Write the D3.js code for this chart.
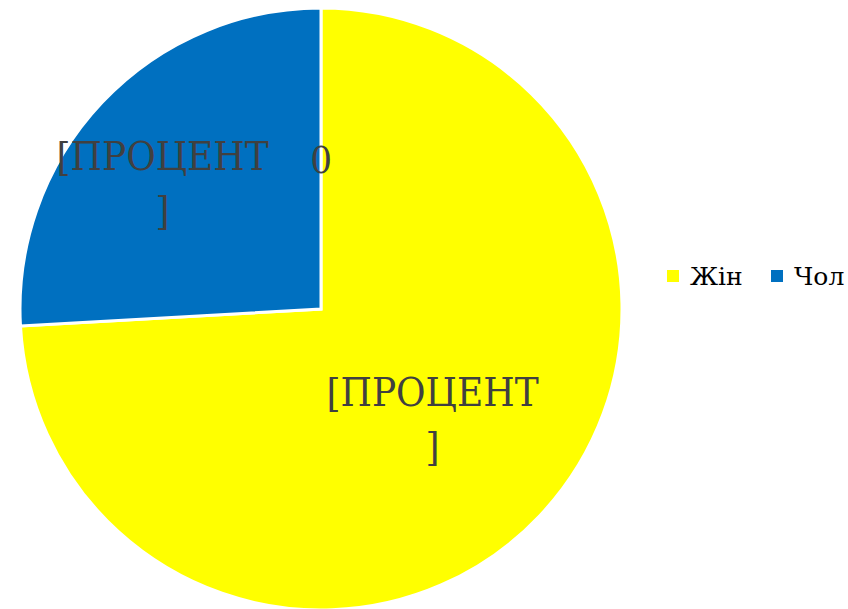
<!DOCTYPE html>
<html>
<head>
<meta charset="utf-8">
<script src="https://cdn.jsdelivr.net/npm/d3@7"></script>
<style>
  body { margin: 0; background: #fff; }
</style>
</head>
<body>
<div id="pieChart"></div>
<script>
var categories = ["Жін", "Чол"];
var values = [74.1, 25.9];
var colors = ["#FFFF00", "#0070C0"];
var sliceLabels = [["[ПРОЦЕНТ", "]"], ["[ПРОЦЕНТ", "]"]];
var zeroLabel = "0";

var w = 848;
var h = 609;
var cx = 321;
var cy = 309;
var radius = 301;
var serif = "'DejaVu Serif', serif";
var serifNarrow = "'DejaVu Serif Condensed', 'DejaVu Serif', serif";

var svg = d3.select("#pieChart")
    .append("svg")
    .attr("width", w)
    .attr("height", h)
    .style("font-family", serif);

var pie = d3.pie().sort(null).value(function(d) { return d; });
var arcs = pie(values);

var arc = d3.arc().innerRadius(0).outerRadius(radius);

var g = svg.append("g").attr("transform", "translate(" + cx + "," + cy + ")");

g.selectAll(".slice")
    .data(arcs)
    .enter()
    .append("path")
    .attr("class", "slice")
    .attr("d", arc)
    .attr("fill", function(d, i) { return colors[i]; })
    .attr("stroke", "#fff")
    .attr("stroke-width", 3);

// label radius differs per slice, like Excel's best-fit placement
var labelRadius = [0.51 * radius, 0.66 * radius];
var labelShift = [[0, 5], [-14, 10]];

var labels = g.selectAll(".slice-label")
    .data(arcs)
    .enter()
    .append("text")
    .attr("class", "slice-label")
    .attr("text-anchor", "middle")
    .attr("font-family", serifNarrow)
    .attr("fill", "#404040")
    .style("font-size", "40px")
    .attr("transform", function(d, i) {
        var c = d3.arc().innerRadius(labelRadius[i]).outerRadius(labelRadius[i]).centroid(d);
        return "translate(" + (c[0] + labelShift[i][0]) + "," + (c[1] + labelShift[i][1]) + ")";
    });

labels.selectAll("tspan")
    .data(function(d, i) { return sliceLabels[i]; })
    .enter()
    .append("tspan")
    .attr("x", 0)
    .attr("y", function(d, j) { return -13 + j * 54; })
    .text(function(d) { return d; });

// zero-valued label at the start of the pie
var zc = d3.arc().innerRadius(0.5 * radius).outerRadius(0.5 * radius)
    .centroid({ startAngle: 0, endAngle: 0 });
g.append("text")
    .attr("text-anchor", "middle")
    .attr("font-family", serifNarrow)
    .attr("fill", "#404040")
    .style("font-size", "38px")
    .attr("x", zc[0])
    .attr("y", zc[1] + 14)
    .text(zeroLabel);

// legend
var legend = svg.append("g").attr("transform", "translate(667,270)");
var legendX = d3.scalePoint().domain(categories).range([0, 104]);

var items = legend.selectAll(".legend-item")
    .data(categories)
    .enter()
    .append("g")
    .attr("class", "legend-item")
    .attr("transform", function(d) { return "translate(" + legendX(d) + ",0)"; });

items.append("rect")
    .attr("width", 12)
    .attr("height", 12)
    .attr("fill", function(d, i) { return colors[i]; });

items.append("text")
    .attr("x", 23)
    .attr("y", 15)
    .attr("font-family", serif)
    .attr("fill", "#000")
    .style("font-size", "25px")
    .text(function(d) { return d; });
</script>
</body>
</html>
